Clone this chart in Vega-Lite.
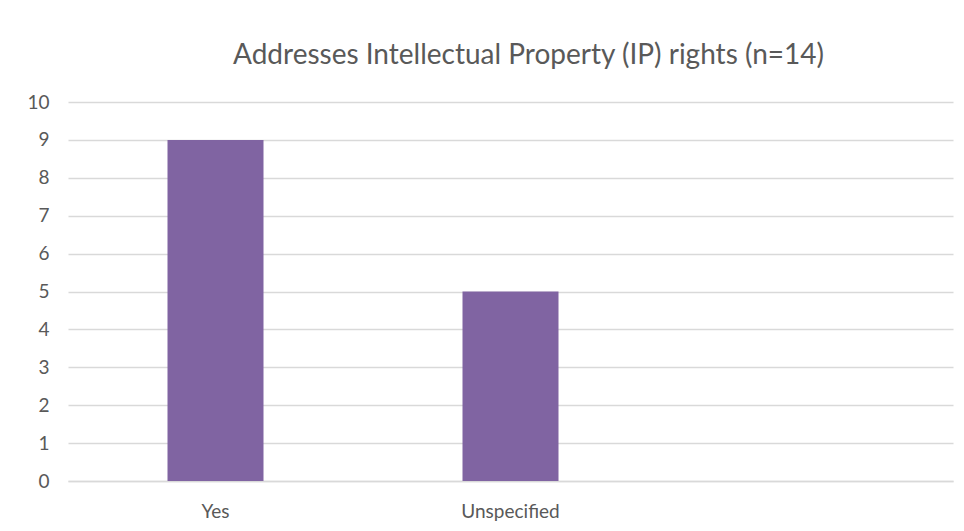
{
  "$schema": "https://vega.github.io/schema/vega-lite/v6.json",
  "autosize": "none",
  "width": 885,
  "height": 379,
  "padding": {"left": 68, "top": 102, "right": 11, "bottom": 50},
  "background": "white",
  "title": {
    "text": "Addresses Intellectual Property (IP) rights (n=14)",
    "font": "Lato",
    "fontSize": 28,
    "fontWeight": "normal",
    "color": "#595959",
    "anchor": "middle",
    "baseline": "alphabetic",
    "offset": 1,
    "dx": 18
  },
  "data": {
    "values": [
      {"category": "Yes", "count": 9},
      {"category": "Unspecified", "count": 5}
    ]
  },
  "mark": {"type": "bar", "color": "#8064A2", "size": 96},
  "encoding": {
    "x": {
      "field": "category",
      "type": "nominal",
      "sort": null,
      "scale": {"domain": ["Yes", "Unspecified", " "], "paddingInner": 0, "paddingOuter": 0},
      "axis": {
        "title": null,
        "labelAngle": 0,
        "labelFont": "Lato",
        "labelFontSize": 19,
        "labelColor": "#595959",
        "labelBaseline": "alphabetic",
        "labelPadding": 36,
        "ticks": false,
        "domainColor": "#D9D9D9",
        "domainWidth": 1.5,
        "grid": false
      }
    },
    "y": {
      "field": "count",
      "type": "quantitative",
      "scale": {"domain": [0, 10], "nice": false},
      "axis": {
        "title": null,
        "values": [0, 1, 2, 3, 4, 5, 6, 7, 8, 9, 10],
        "labelFont": "Lato",
        "labelFontSize": 19,
        "labelColor": "#595959",
        "labelPadding": 19,
        "ticks": false,
        "domain": false,
        "grid": true,
        "gridColor": "#D9D9D9",
        "gridWidth": 1.5
      }
    }
  },
  "config": {"view": {"stroke": null}}
}
